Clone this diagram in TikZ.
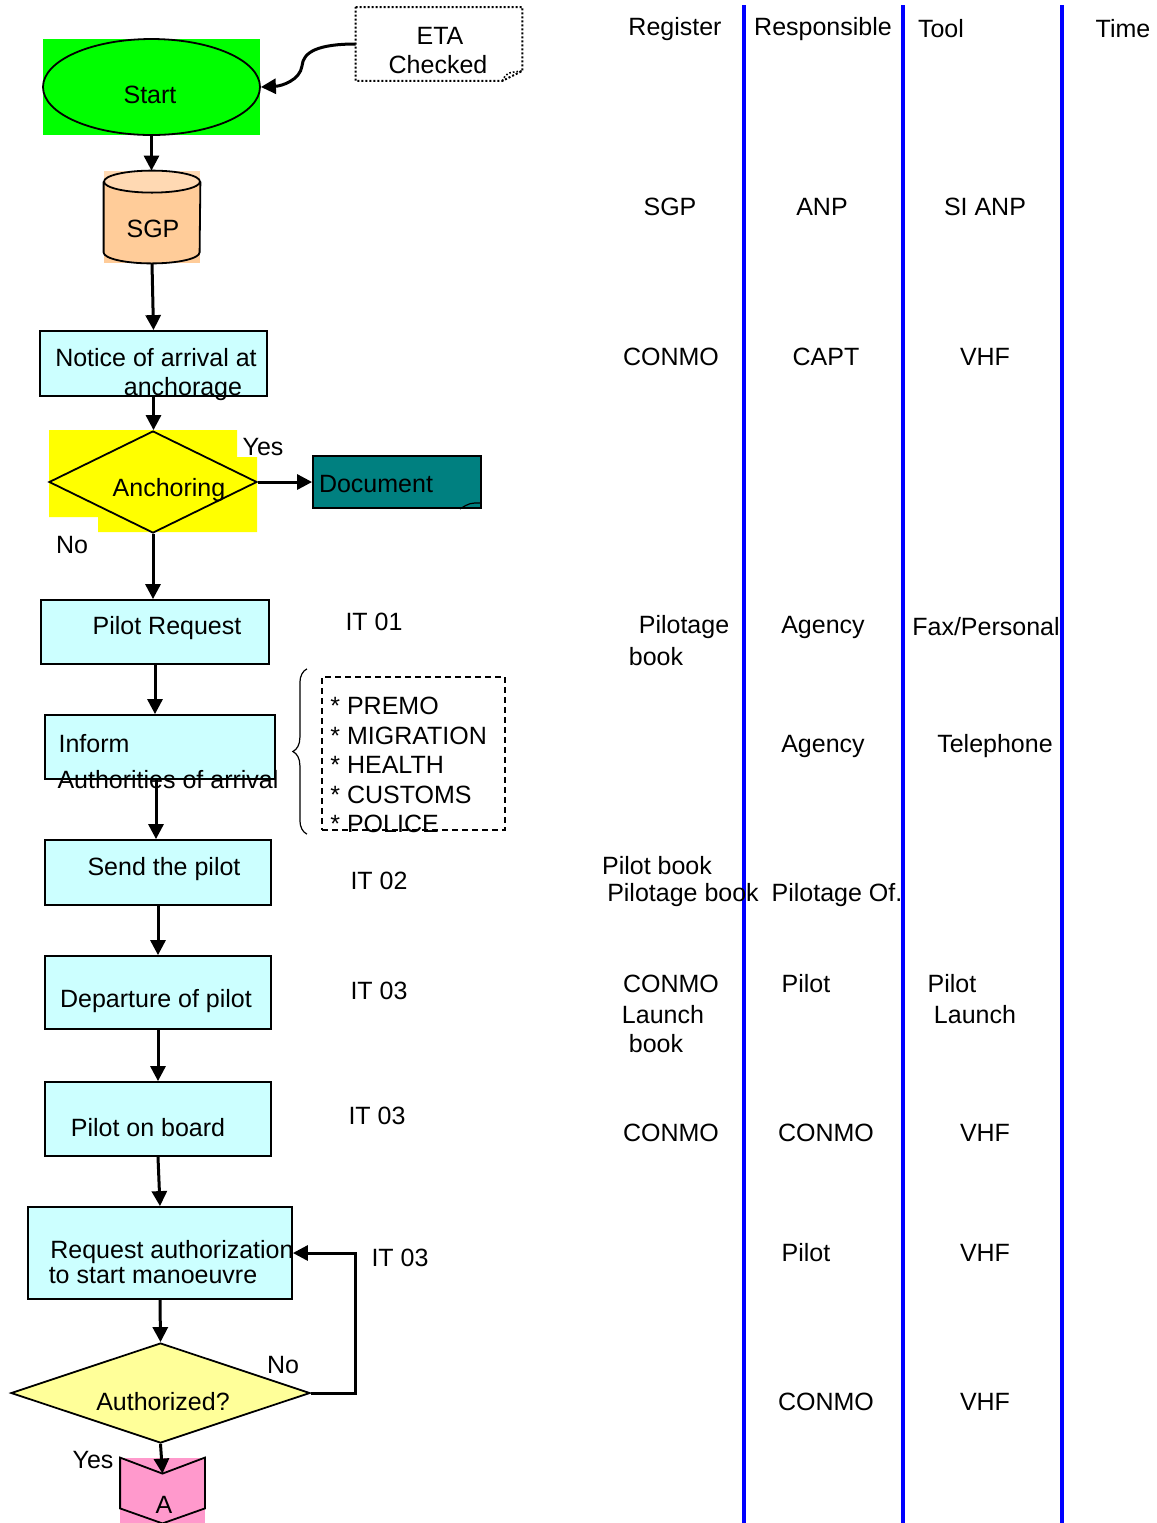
\documentclass[tikz,border=0pt]{standalone}
\usepackage{fontspec}
\setmainfont{Liberation Sans}
\usetikzlibrary{shapes.geometric,arrows.meta,decorations.pathreplacing}

\definecolor{startgreen}{HTML}{00FF00}
\definecolor{sgporange}{HTML}{FFCC99}
\definecolor{sgptop}{HTML}{FFD9B3}
\definecolor{procfill}{HTML}{CCFFFF}
\definecolor{anchyellow}{HTML}{FFFF00}
\definecolor{authyellow}{HTML}{FFFF99}
\definecolor{docteal}{HTML}{008080}
\definecolor{conpink}{HTML}{FF99CC}
\definecolor{laneblue}{HTML}{0000FF}

\begin{document}
\begin{tikzpicture}[x=0.5pt, y=-0.5pt,
  every node/.append style={font=\fontsize{12.5}{14.75}\selectfont},
  txt/.style={inner sep=0pt},
  proc/.style={draw=black, line width=0.9pt, fill=procfill, inner sep=0pt},
  decide/.style={diamond, draw=black, line width=0.9pt, inner sep=0pt},
  flow/.style={-{Triangle[length=7.5pt,width=7.5pt]}, line width=1.5pt, draw=black},
  lane/.style={draw=laneblue, line width=2.3pt}
]
\useasboundingbox (0,0) rectangle (1157,1523);

% swimlane rules
\draw[lane] (744,5) -- (744,1523);
\draw[lane] (903,5) -- (903,1523);
\draw[lane] (1062,5) -- (1062,1523);

% backgrounds
\fill[startgreen] (43,39) rectangle (260,135);
\fill[sgporange] (104,171) rectangle (200,263);
\fill[sgptop] (104,171) rectangle (200,194);
\fill[anchyellow] (49,430) -- (237,430) -- (237,457) -- (257,457) -- (257,532)
  -- (98,532) -- (98,517) -- (49,517) -- cycle;
\fill[conpink] (120,1458) rectangle (205,1523);

% flow shapes
\node[ellipse, draw=black, line width=0.9pt, fill=startgreen, inner sep=0pt,
      minimum width=108.5pt, minimum height=48pt] (start) at (151.5,87) {};
\node[inner sep=0pt, minimum width=83pt, minimum height=36.5pt] (eta) at (439,44) {};
\draw[densely dotted, line width=1pt] (eta.north west) -- (eta.north east)
  -- ([yshift=5pt]eta.south east) -- ([xshift=-10pt]eta.south east)
  -- (eta.south west) -- cycle;
\draw[densely dotted, line width=0.8pt] ([xshift=-10pt]eta.south east)
  .. controls ([xshift=-8pt,yshift=4pt]eta.south east) .. ([yshift=5pt]eta.south east);
\node[inner sep=0pt, minimum width=48pt, minimum height=46pt] (sgp) at (152,217) {};
\draw[line width=0.9pt, fill=sgporange] ([yshift=-5.5pt]sgp.north west)
  -- ([yshift=5.5pt]sgp.south west) arc[start angle=180, end angle=360, x radius=24pt, y radius=5.5pt]
  -- ([yshift=-5.5pt]sgp.north east);
\draw[line width=0.9pt, fill=sgptop] ([yshift=-5.5pt]sgp.north) ellipse [x radius=24pt, y radius=5.5pt];
\node[proc, minimum width=113.5pt, minimum height=32.5pt] (notice) at (153.5,363.5) {};
\node[decide, fill=anchyellow, minimum width=104pt, minimum height=51pt] (anch) at (153,482) {};
\node[draw=black, line width=0.9pt, fill=docteal, inner sep=0pt,
      minimum width=84pt, minimum height=26pt] (doc) at (397,482) {};
\draw[line width=0.6pt] ([xshift=-11pt]doc.south east)
  .. controls ([xshift=-6pt,yshift=3pt]doc.south east) .. ([yshift=3pt]doc.south east);
\node[proc, minimum width=114pt, minimum height=32pt] (pilotreq) at (155,632) {};
\node[proc, minimum width=115pt, minimum height=32pt] (inform) at (160,747) {};
\node[draw=black, densely dashed, line width=1.1pt, inner sep=0pt,
      minimum width=91.5pt, minimum height=76.5pt] (authlist) at (413.5,753.5) {};
\draw[decorate, decoration={brace, amplitude=7pt}, line width=0.6pt]
  ([xshift=-7pt,yshift=-1.5pt]authlist.south west) -- ([xshift=-7pt,yshift=3.5pt]authlist.north west);
\node[proc, minimum width=113pt, minimum height=32.5pt] (send) at (158,872.5) {};
\node[proc, minimum width=113pt, minimum height=36.5pt] (depart) at (158,992.5) {};
\node[proc, minimum width=113pt, minimum height=37pt] (onboard) at (158,1119) {};
\node[proc, minimum width=132pt, minimum height=46pt] (req) at (160,1253) {};
\node[decide, fill=authyellow, minimum width=149.5pt, minimum height=50pt] (auth) at (160.5,1393) {};
\node[inner sep=0pt, minimum width=42pt, minimum height=32.5pt] (conA) at (162.5,1490.5) {};
\draw[line width=0.9pt] (conA.north west) -- ([yshift=-8pt]conA.north) -- (conA.north east)
  -- ([yshift=7.5pt]conA.south east) -- (conA.south) -- ([yshift=7.5pt]conA.south west) -- cycle;
\coordinate (conA-in) at ([yshift=-8pt]conA.north);

% texts of the flow
\node[txt] (start-t) at (150,95) {Start};
\node[txt] (eta-t1) at (440,36) {ETA};
\node[txt] (eta-t2) at (438,65) {Checked};
\node[txt] (sgp-t) at (153,229) {SGP};
\node[txt] (notice-t1) at (156,358) {Notice of arrival at};
\node[txt] (notice-t2) at (183,389) {anchorage};
\node[txt] (anch-t) at (169,490) {Anchoring};
\node[txt] (anch-yes) at (263,447) {Yes};
\node[txt] (anch-no) at (72,545) {No};
\node[txt] (doc-t) at (376,484) {Document};
\node[txt] (pilotreq-t) at (167,628) {Pilot Request};
\node[txt] (inform-t1) at (94,744) {Inform};
\node[txt] (inform-t2) at (168,780) {Authorities of arrival};
\node[txt, anchor=west, align=left] (authlist-t) at (330,765)
  {* PREMO\\* MIGRATION\\* HEALTH\\* CUSTOMS\\* POLICE};
\node[txt] (send-t) at (164,869) {Send the pilot};
\node[txt] (depart-t) at (156,1001) {Departure of pilot};
\node[txt] (onboard-t) at (148,1128) {Pilot on board};
\node[txt] (req-t1) at (172,1252) {Request authorization};
\node[txt] (req-t2) at (153,1276) {to start manoeuvre};
\node[txt] (auth-t) at (163,1402) {Authorized?};
\node[txt] (auth-no) at (283,1365) {No};
\node[txt] (auth-yes) at (93,1460) {Yes};
\node[txt] (conA-t) at (164,1505) {A};
\node[txt] (it1) at (374,622) {IT 01};
\node[txt] (it2) at (379,881) {IT 02};
\node[txt] (it3a) at (379,991) {IT 03};
\node[txt] (it3b) at (377,1116) {IT 03};
\node[txt] (it3c) at (400,1258) {IT 03};

% connectors
\draw[flow] (eta.west) .. controls (318,44) and (303,52) .. (302,66)
  .. controls (300,80) and (282,86) .. (start.east);
\draw[flow] (start.south) -- (start.south |- sgp.north);
\draw[flow] (sgp.south) -- (notice.north);
\draw[flow] (notice.south) -- (notice.south |- anch.north);
\draw[flow] (anch.east) -- (doc.west);
\draw[flow] (anch.south) -- (anch.south |- pilotreq.north);
\draw[flow] (pilotreq.south) -- (pilotreq.south |- inform.north);
\draw[flow] ([xshift=-2pt]inform.south) -- ([xshift=-1pt]send.north);
\draw[flow] (send.south) -- (depart.north);
\draw[flow] (depart.south) -- (onboard.north);
\draw[flow] (onboard.south) -- (req.north);
\draw[flow] (req.south) -- (auth.north);
\draw[flow] (auth.east) -- ++(22.5pt,0) |- (req.east);
\draw[flow] (auth.south) -- (conA-in);

% table headers
\node[txt] (hdr-reg) at (675,29) {Register};
\node[txt] (hdr-resp) at (823,29) {Responsible};
\node[txt] (hdr-tool) at (941,29) {Tool};
\node[txt] (hdr-time) at (1123,29) {Time};

% table rows
\node[txt] (reg1) at (670,207) {SGP};
\node[txt] (resp1) at (822,207) {ANP};
\node[txt] (tool1) at (985,207) {SI ANP};
\node[txt] (reg2) at (671,357) {CONMO};
\node[txt] (resp2) at (826,357) {CAPT};
\node[txt] (tool2) at (985,357) {VHF};
\node[txt] (reg3a) at (684,627) {Pilotage};
\node[txt] (reg3b) at (656,657) {book};
\node[txt] (resp3) at (823,627) {Agency};
\node[txt] (tool3) at (986,627) {Fax/Personal};
\node[txt] (resp4) at (823,746) {Agency};
\node[txt] (tool4) at (995,746) {Telephone};
\node[txt] (reg5a) at (657,866) {Pilot book};
\node[txt] (reg5b) at (683,895) {Pilotage book};
\node[txt] (resp5) at (837,895) {Pilotage Of.};
\node[txt] (reg6a) at (671,984) {CONMO};
\node[txt] (reg6b) at (663,1015) {Launch};
\node[txt] (reg6c) at (656,1044) {book};
\node[txt] (resp6) at (806,984) {Pilot};
\node[txt] (tool6a) at (952,984) {Pilot};
\node[txt] (tool6b) at (975,1015) {Launch};
\node[txt] (reg7) at (671,1133) {CONMO};
\node[txt] (resp7) at (826,1133) {CONMO};
\node[txt] (tool7) at (985,1133) {VHF};
\node[txt] (resp8) at (806,1253) {Pilot};
\node[txt] (tool8) at (985,1253) {VHF};
\node[txt] (resp9) at (826,1402) {CONMO};
\node[txt] (tool9) at (985,1402) {VHF};
\end{tikzpicture}
\end{document}
